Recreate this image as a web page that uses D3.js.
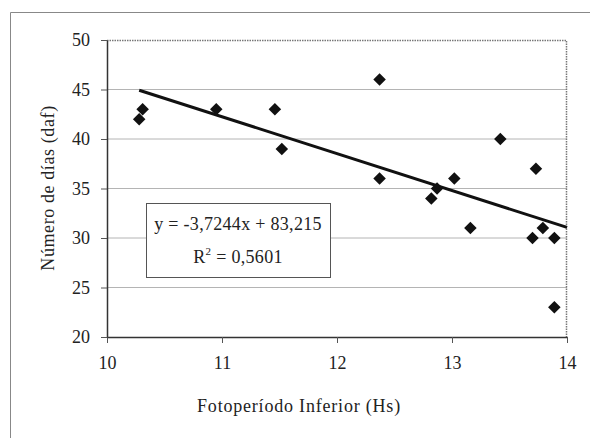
<!DOCTYPE html>
<html>
<head>
<meta charset="utf-8">
<script src="https://cdn.jsdelivr.net/npm/d3@7"></script>
<style>
  body { margin: 0; background: #fff; }
  text { font-family: "Liberation Serif", "Times New Roman", serif; fill: #222; }
</style>
</head>
<body>
<script>
// data
var fotoperiodo = [10.28, 10.31, 10.95, 11.46, 11.52, 12.37, 12.37, 12.82, 12.87, 13.02, 13.16, 13.42, 13.73, 13.70, 13.79, 13.89, 13.89];
var dias        = [42, 43, 43, 43, 39, 46, 36, 34, 35, 36, 31, 40, 37, 30, 31, 30, 23];
var xTicks = [10, 11, 12, 13, 14];
var yTicks = [20, 25, 30, 35, 40, 45, 50];
var slope = -3.7244, intercept = 83.215;
var eqLines = ["y = -3,7244x + 83,215", "R2 = 0,5601"];

var svgWidth = 590, svgHeight = 438;
var margin = { top: 40, right: 23, bottom: 101, left: 107 };
var chartWidth = svgWidth - margin.left - margin.right;
var chartHeight = svgHeight - margin.top - margin.bottom;

var svg = d3.select("body").append("svg")
  .attr("width", svgWidth)
  .attr("height", svgHeight);

// outer chart frame
svg.append("path")
  .attr("d", "M10.5,438 L10.5,12.5 L590,12.5")
  .attr("fill", "none")
  .attr("stroke", "#888")
  .attr("stroke-width", 1);

var chartGroup = svg.append("g")
  .attr("transform", `translate(${margin.left}, ${margin.top})`);

var x = d3.scaleLinear().domain([10, 14]).range([0, chartWidth]);
var y = d3.scaleLinear().domain([20, 50]).range([chartHeight, 0]);

// gridlines
chartGroup.selectAll(".grid")
  .data(yTicks.filter(d => d > 20 && d < 50))
  .enter().append("line")
  .attr("x1", 0).attr("x2", chartWidth)
  .attr("y1", d => y(d)).attr("y2", d => y(d))
  .attr("stroke", "#b4b4b4")
  .attr("stroke-width", 1);

// plot area border (dotted top/right)
chartGroup.append("path")
  .attr("d", `M0,0.5 H${chartWidth - 0.5} V${chartHeight}`)
  .attr("fill", "none")
  .attr("stroke", "#777")
  .attr("stroke-width", 1.5)
  .attr("stroke-dasharray", "1.5,1");

// axes
var bottomAxis = d3.axisBottom(x).tickValues(xTicks).tickFormat(d3.format("d"))
  .tickSize(6).tickSizeOuter(0).tickPadding(13);
var leftAxis = d3.axisLeft(y).tickValues(yTicks).tickFormat(d3.format("d"))
  .tickSize(6).tickSizeOuter(0).tickPadding(11);

var xAxis = chartGroup.append("g")
  .attr("transform", `translate(0, ${chartHeight})`)
  .call(bottomAxis);
var yAxis = chartGroup.append("g").call(leftAxis);

[xAxis, yAxis].forEach(function (ax) {
  ax.select(".domain").attr("stroke", "#333").attr("stroke-width", 1.5);
  ax.selectAll(".tick line").attr("stroke", "#555");
  ax.selectAll("text")
    .attr("font-family", "Liberation Serif, serif")
    .attr("font-size", 18)
    .attr("fill", "#222");
});

// trendline
var xMin = d3.min(fotoperiodo);
chartGroup.append("line")
  .attr("x1", x(xMin)).attr("y1", y(slope * xMin + intercept))
  .attr("x2", x(14)).attr("y2", y(slope * 14 + intercept))
  .attr("stroke", "#111")
  .attr("stroke-width", 3);

// points
chartGroup.selectAll(".pt")
  .data(fotoperiodo)
  .enter().append("path")
  .attr("d", d3.symbol().type(d3.symbolDiamond2).size(100))
  .attr("transform", (d, i) => `translate(${x(d)}, ${y(dias[i])})`)
  .attr("fill", "#111");

// equation box
var box = chartGroup.append("g").attr("transform", "translate(39, 163)");
box.append("rect")
  .attr("x", 0.5).attr("y", 0.5)
  .attr("width", 184).attr("height", 74)
  .attr("fill", "#fff")
  .attr("stroke", "#555");
box.append("text")
  .attr("x", 92).attr("y", 27)
  .attr("text-anchor", "middle")
  .attr("font-size", 18)
  .attr("letter-spacing", 0.3)
  .text(eqLines[0]);
var r2 = box.append("text")
  .attr("x", 92).attr("y", 60)
  .attr("text-anchor", "middle")
  .attr("font-size", 18)
  .attr("letter-spacing", 0.3);
r2.append("tspan").text("R");
r2.append("tspan").attr("dy", -8).attr("font-size", 11).text("2");
r2.append("tspan").attr("dy", 8).text(" = 0,5601");

// axis titles
svg.append("text")
  .attr("x", margin.left + chartWidth / 2 - 38)
  .attr("y", 412)
  .attr("text-anchor", "middle")
  .attr("font-size", 18)
  .attr("letter-spacing", 0.8)
  .text("Fotoperíodo Inferior (Hs)");

svg.append("text")
  .attr("transform", "rotate(-90)")
  .attr("x", -188)
  .attr("y", 54)
  .attr("text-anchor", "middle")
  .attr("font-size", 18)
  .attr("letter-spacing", 0.6)
  .text("Número de días (daf)");
</script>
</body>
</html>
